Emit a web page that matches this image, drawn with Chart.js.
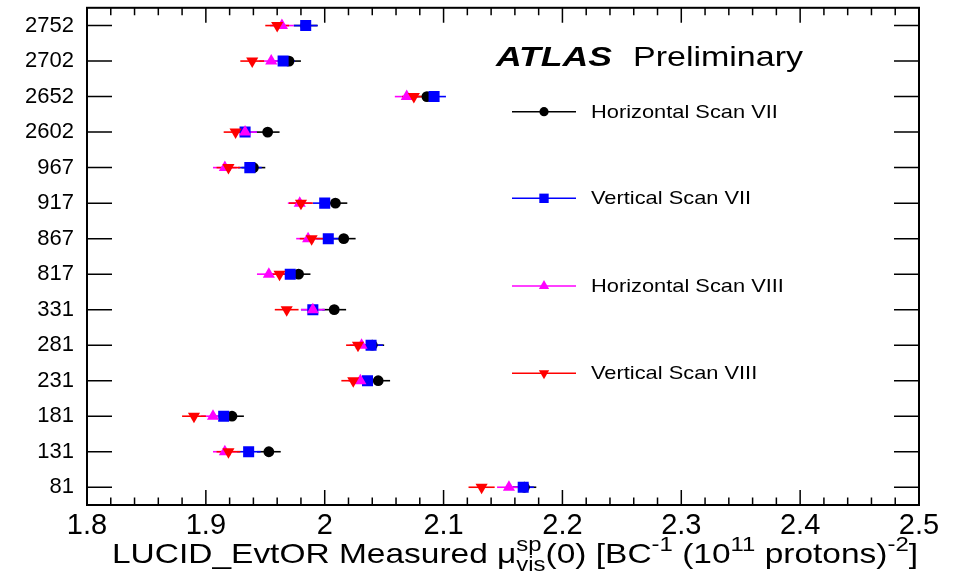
<!DOCTYPE html>
<html><head><meta charset="utf-8">
<script src="https://cdn.jsdelivr.net/npm/chart.js@4"></script>
<style>html,body{margin:0;padding:0;background:#fff;}</style>
</head><body>
<canvas id="c" width="957" height="582" style="width:957px;height:582px;display:block"></canvas>
<script>
// BCID categories, bottom to top
const categories = ['81','131','181','231','281','331','817','867','917','967','2602','2652','2702','2752'];
const seriesNames = ['Horizontal Scan VII','Vertical Scan VII','Horizontal Scan VIII','Vertical Scan VIII'];
const hScanVII   = [2.168,1.953,1.922,2.045,2.040,2.008,1.978,2.016,2.009,1.940,1.952,2.086,1.970,1.984];
const vScanVII   = [2.167,1.936,1.915,2.036,2.039,1.990,1.971,2.003,2.000,1.937,1.933,2.092,1.965,1.984];
const hScanVIII  = [2.155,1.916,1.906,2.030,2.031,1.990,1.953,1.986,1.979,1.916,1.933,2.069,1.955,1.964];
const vScanVIII  = [2.132,1.919,1.890,2.024,2.028,1.968,1.962,1.989,1.980,1.919,1.925,2.075,1.939,1.960];
const hScanVIIErr  = [0.010,0.010,0.010,0.010,0.010,0.010,0.010,0.010,0.010,0.010,0.010,0.010,0.010,0.010];
const vScanVIIErr  = [0.009,0.010,0.010,0.010,0.010,0.010,0.010,0.010,0.010,0.010,0.010,0.010,0.010,0.010];
const hScanVIIIErr = [0.010,0.010,0.010,0.010,0.010,0.010,0.010,0.010,0.010,0.010,0.010,0.010,0.010,0.010];
const vScanVIIIErr = [0.011,0.010,0.010,0.010,0.010,0.010,0.010,0.010,0.010,0.010,0.010,0.010,0.010,0.010];
const xTickMin = 1.8, xTickMax = 2.5;

const colors = ['#000000','#0000ff','#ff00ff','#ff0000'];
const styles = [
  {pointStyle:'circle', radius:5.4, rotation:0},
  {pointStyle:'rect', radius:7.8, rotation:0},
  {pointStyle:'triangle', radius:7, rotation:0},
  {pointStyle:'triangle', radius:7, rotation:180}
];
const allVals = [hScanVII, vScanVII, hScanVIII, vScanVIII];
const allErrs = [hScanVIIErr, vScanVIIErr, hScanVIIIErr, vScanVIIIErr];

const datasets = allVals.map((vals, s) => ({
  label: seriesNames[s],
  data: vals.map((v, i) => ({x: v, y: i})),
  showLine: false,
  backgroundColor: colors[s],
  borderColor: colors[s],
  borderWidth: 0,
  pointStyle: styles[s].pointStyle,
  pointRadius: styles[s].radius,
  pointRotation: styles[s].rotation,
  order: 4 - s
}));

const FONT = '"Liberation Sans", Arial, Helvetica, sans-serif';

const drawPlugin = {
  id: 'rootStyle',
  beforeDatasetsDraw(chart) {
    const ctx = chart.ctx, xs = chart.scales.x, ys = chart.scales.y;
    ctx.save();
    ctx.lineWidth = 1.6;
    allVals.forEach((vals, s) => {
      ctx.strokeStyle = colors[s];
      vals.forEach((v, i) => {
        const y = ys.getPixelForValue(i);
        ctx.beginPath();
        ctx.moveTo(xs.getPixelForValue(v - allErrs[s][i]), y);
        ctx.lineTo(xs.getPixelForValue(v + allErrs[s][i]), y);
        ctx.stroke();
      });
    });
    ctx.restore();
  },
  afterDraw(chart) {
    const ctx = chart.ctx, xs = chart.scales.x, ys = chart.scales.y;
    const a = chart.chartArea;
    ctx.save();
    // frame
    ctx.strokeStyle = '#000';
    ctx.lineWidth = 2;
    ctx.strokeRect(a.left, a.top, a.right - a.left, a.bottom - a.top);
    // y ticks (inside, both sides)
    ctx.lineWidth = 1.5;
    categories.forEach((c, i) => {
      const y = ys.getPixelForValue(i);
      ctx.beginPath();
      ctx.moveTo(a.left, y); ctx.lineTo(a.left + 25, y);
      ctx.moveTo(a.right, y); ctx.lineTo(a.right - 25, y);
      ctx.stroke();
    });
    // x ticks: major every 0.1, minor every 0.02, bottom and top
    for (let k = 0; k <= 35; k++) {
      const v = xTickMin + k * 0.02;
      const x = xs.getPixelForValue(v);
      const len = (k % 5 === 0) ? 15 : 7.5;
      ctx.beginPath();
      ctx.moveTo(x, a.bottom); ctx.lineTo(x, a.bottom - len);
      ctx.moveTo(x, a.top); ctx.lineTo(x, a.top + len);
      ctx.stroke();
    }
    // ATLAS Preliminary
    ctx.fillStyle = '#000';
    ctx.textBaseline = 'alphabetic';
    ctx.textAlign = 'left';
    function fitText(txt, font, x, y, w) {
      ctx.font = font;
      const nat = ctx.measureText(txt).width;
      ctx.save();
      ctx.translate(x, y);
      ctx.scale(w / nat, 1);
      ctx.fillText(txt, 0, 0);
      ctx.restore();
    }
    fitText('ATLAS', 'italic bold 28px ' + FONT, 496, 66, 116);
    fitText('Preliminary', '28px ' + FONT, 633, 66, 170);
    // legend
    const legY = [111.7, 198.3, 286, 373.3];
    seriesNames.forEach((n, s) => {
      const y = legY[s];
      ctx.strokeStyle = colors[s];
      ctx.lineWidth = 1.6;
      ctx.beginPath(); ctx.moveTo(512, y); ctx.lineTo(576, y); ctx.stroke();
      ctx.fillStyle = colors[s];
      Chart.helpers.drawPoint(ctx, {pointStyle: styles[s].pointStyle, radius: styles[s].radius * 0.85, rotation: styles[s].rotation, borderWidth: 0}, 544, y);
      ctx.fillStyle = '#000';
      ctx.font = '18.5px ' + FONT;
      ctx.textBaseline = 'middle';
      ctx.save();
      ctx.translate(591, y + 1);
      ctx.scale(1.18, 1);
      ctx.fillText(n, 0, 0);
      ctx.restore();
    });
    // x axis title with sub/superscripts
    const parts = [
      {t:'LUCID_EvtOR Measured ', f:28, dy:0},
      {t:'\u03bc', f:28, dy:0},
      {t:'sp', f:20, dy:-12, stack:true},
      {t:'vis', f:20, dy:8},
      {t:'(0) [BC', f:28, dy:0},
      {t:'-1', f:20, dy:-12},
      {t:' (10', f:28, dy:0},
      {t:'11', f:20, dy:-12},
      {t:' protons)', f:28, dy:0},
      {t:'-2', f:20, dy:-12},
      {t:']', f:28, dy:0}
    ];
    ctx.textBaseline = 'alphabetic';
    let tot = 0;
    const widths = parts.map(p => { ctx.font = p.f + 'px ' + FONT; const w = ctx.measureText(p.t).width; return w; });
    parts.forEach((p, i) => { if (!p.stack) tot += widths[i]; });
    const x0 = 112, x1 = 918, base = 563;
    const sx = (x1 - x0) / tot;
    ctx.save();
    ctx.translate(x0, base);
    ctx.scale(sx, 1);
    let cx = 0;
    parts.forEach((p, i) => {
      ctx.font = p.f + 'px ' + FONT;
      ctx.fillText(p.t, cx, p.dy);
      if (!p.stack) cx += widths[i];
    });
    ctx.restore();
    ctx.restore();
  }
};

new Chart(document.getElementById('c'), {
  type: 'scatter',
  data: { datasets },
  options: {
    responsive: false,
    animation: false,
    devicePixelRatio: 1,
    events: [],
    layout: { padding: { top: 4, right: 38, left: 0, bottom: 0 } },
    plugins: { legend: { display: false }, tooltip: { enabled: false } },
    scales: {
      x: {
        type: 'linear', min: xTickMin, max: xTickMax,
        grid: { display: false, drawTicks: false },
        border: { display: false },
        ticks: {
          stepSize: 0.1, autoSkip: false, maxRotation: 0, padding: 4,
          color: '#000', font: { family: FONT, size: 29 },
          callback: v => String(Number(v.toFixed(1)))
        },
        afterFit: s => { s.height = 77; s.paddingLeft = 0; s.paddingRight = 0; }
      },
      y: {
        type: 'linear', min: -0.5, max: 13.5,
        grid: { display: false, drawTicks: false },
        border: { display: false },
        afterBuildTicks: s => { s.ticks = categories.map((c, i) => ({ value: i })); },
        ticks: {
          autoSkip: false, padding: 13,
          color: '#000', font: { family: FONT, size: 22 },
          callback: (v) => categories[v]
        },
        afterFit: s => { s.width = 87; s.paddingTop = 0; s.paddingBottom = 0; }
      }
    }
  },
  plugins: [drawPlugin]
});
</script>
</body></html>
